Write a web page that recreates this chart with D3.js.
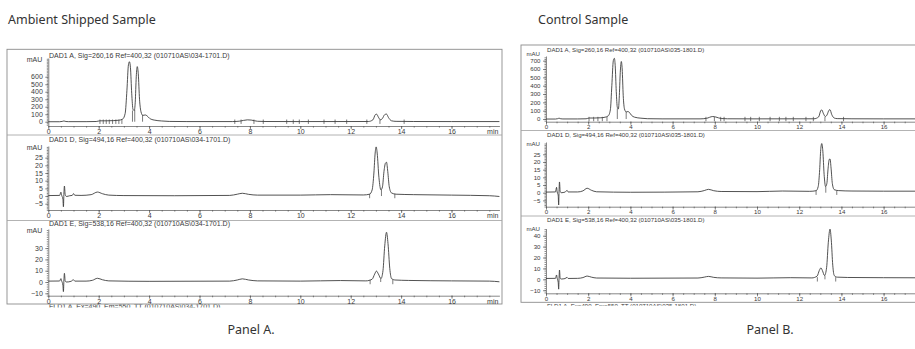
<!DOCTYPE html>
<html>
<head>
<meta charset="utf-8">
<script src="https://cdn.jsdelivr.net/npm/d3@7"></script>
<style>
  body { margin: 0; background: #fff; }
  svg { display: block; }
</style>
</head>
<body>
<div id="chart"></div>
<script>
// ---- data (time in min, signal in mAU) ----
var panelNames = ["Ambient Shipped Sample", "Control Sample"];
var panelCaptions = ["Panel A.", "Panel B."];

var ambientTitles = [
  "DAD1 A, Sig=260,16 Ref=400,32 (010710AS\\034-1701.D)",
  "DAD1 D, Sig=494,16 Ref=400,32 (010710AS\\034-1701.D)",
  "DAD1 E, Sig=538,16 Ref=400,32 (010710AS\\034-1701.D)",
  "FLD1 A, Ex=490, Em=550, TT (010710AS\\034-1701.D)"
];
var controlTitles = [
  "DAD1 A, Sig=260,16 Ref=400,32 (010710AS\\035-1801.D)",
  "DAD1 D, Sig=494,16 Ref=400,32 (010710AS\\035-1801.D)",
  "DAD1 E, Sig=538,16 Ref=400,32 (010710AS\\035-1801.D)",
  "FLD1 A, Ex=490, Em=550, TT (010710AS\\035-1801.D)"
];

var timeTicks = [0, 2, 4, 6, 8, 10, 12, 14, 16];
var ticks260A = [0, 100, 200, 300, 400, 500, 600];
var ticks260B = [0, 100, 200, 300, 400, 500, 600, 700];
var ticks494 = [-5, 0, 5, 10, 15, 20, 25];
var ticks538A = [-10, 0, 10, 20, 30];
var ticks538B = [-10, 0, 10, 20, 30, 40];

var ambient260 = [[0,0],[0.45,0],[0.55,4],[0.62,10],[0.7,3],[0.8,1],[1.5,1],[1.9,3],[2.05,12],[2.3,12],[2.6,15],
  [2.8,20],[2.95,35],[3.05,110],[3.12,420],[3.18,760],[3.22,800],[3.26,720],[3.31,380],[3.36,165],[3.41,150],
  [3.45,260],[3.49,600],[3.53,735],[3.57,640],[3.62,300],[3.68,130],[3.75,85],[3.85,90],[3.92,78],[4.02,45],
  [4.2,22],[4.5,10],[4.8,4],[5.5,2],[7.3,2],[7.6,8],[7.9,25],[8.05,22],[8.3,6],[8.6,3],[10,2],[12.7,3],
  [12.88,25],[12.98,95],[13.03,100],[13.1,60],[13.18,25],[13.25,40],[13.35,95],[13.42,102],[13.5,55],
  [13.62,12],[13.8,5],[14.5,3],[16,2],[17.9,2]];
var ambient494 = [[0,0.3],[0.45,0.4],[0.5,2.5],[0.53,0.5],[0.58,-2],[0.6,-7],[0.62,2],[0.64,6.5],[0.67,1],
  [0.72,-0.3],[0.85,0.2],[0.95,0.4],[1.0,1.6],[1.05,0.5],[1.3,0.4],[1.7,0.9],[1.95,2.6],[2.15,1.5],[2.4,0.6],
  [3,0.3],[5,0.2],[7.2,0.4],[7.5,1.2],[7.7,1.8],[7.95,1.1],[8.3,0.6],[10,0.6],[11.2,0.9],[12.5,0.7],
  [12.75,1.2],[12.85,4],[12.92,15],[12.97,28],[13.01,32],[13.05,28],[13.12,12],[13.2,4],[13.26,6],
  [13.32,16],[13.38,21.5],[13.42,22],[13.47,16],[13.53,6],[13.62,2],[13.8,1.2],[14.5,0.9],[16,0.6],
  [17.5,0.2],[17.9,-0.3]];
var ambient538 = [[0,0.8],[0.45,0.9],[0.5,3],[0.53,1],[0.58,-3],[0.6,-8.5],[0.62,2],[0.64,7.7],[0.67,1],
  [0.72,0],[0.9,0.6],[1.0,2],[1.05,0.8],[1.5,0.8],[1.75,1.5],[1.95,3.3],[2.15,2],[2.4,1],[4,0.6],[7.2,0.8],
  [7.5,1.8],[7.7,2.8],[7.95,1.8],[8.3,1],[10,0.8],[11.6,1.3],[12.6,1],[12.85,2.5],[12.95,7],[13.02,9.7],
  [13.1,7],[13.2,3],[13.28,10],[13.35,32],[13.42,44],[13.48,34],[13.55,12],[13.62,3],[13.75,1.8],
  [14.3,1.4],[16,1],[17.5,0.8],[17.9,0.2]];

var control260 = [[0,0],[0.45,0],[0.55,4],[0.62,10],[0.7,3],[0.8,1],[1.5,1],[1.9,3],[2.05,12],[2.3,12],
  [2.6,15],[2.8,22],[2.95,38],[3.05,110],[3.12,400],[3.19,700],[3.24,728],[3.28,640],[3.33,330],[3.38,140],
  [3.43,120],[3.47,250],[3.52,560],[3.57,690],[3.61,600],[3.66,280],[3.72,120],[3.8,85],[3.88,90],[3.95,80],
  [4.05,45],[4.2,22],[4.5,10],[4.8,4],[5.5,2],[7.3,2],[7.6,8],[7.9,30],[8.05,24],[8.3,6],[8.6,3],[10,2],
  [12.7,3],[12.92,25],[13.02,100],[13.07,110],[13.14,70],[13.24,30],[13.32,50],[13.41,105],[13.46,112],
  [13.54,55],[13.66,12],[13.8,5],[14.5,3],[16,2],[17.9,2]];
var control494 = [[0,0.4],[0.45,0.5],[0.5,3.5],[0.53,0.5],[0.58,-2],[0.6,-8],[0.62,2],[0.64,7],[0.67,1],
  [0.72,0],[0.9,0.4],[1.0,1.5],[1.05,0.5],[1.5,0.5],[1.75,1.2],[1.95,2.9],[2.15,1.6],[2.4,0.6],[4,0.3],
  [7.2,0.6],[7.5,1.4],[7.7,2.2],[7.95,1.3],[8.3,0.8],[10,0.7],[11.2,1.1],[12.5,0.9],[12.8,1.3],[12.9,4],
  [12.97,15],[13.02,28],[13.07,32],[13.12,27],[13.18,12],[13.25,4],[13.31,6],[13.37,16],[13.42,21.5],
  [13.46,22],[13.51,16],[13.57,6],[13.66,2],[13.85,1.4],[14.5,1.1],[16,1],[17.9,1]];
var control538 = [[0,0.8],[0.45,0.9],[0.5,4],[0.53,1],[0.58,-3],[0.6,-9],[0.62,2],[0.64,8.5],[0.67,1],
  [0.72,0.3],[0.9,0.7],[1.0,1.8],[1.05,0.8],[1.5,0.9],[1.75,1.6],[1.95,3],[2.15,2],[2.4,1.2],[4,1],
  [7.2,1.2],[7.5,2],[7.7,2.7],[7.95,1.8],[8.3,1.3],[10,1.1],[11.6,1.5],[12.6,1.3],[12.85,3],[12.95,8],
  [13.03,10.5],[13.1,8],[13.2,3.5],[13.3,11],[13.38,34],[13.46,46],[13.52,36],[13.59,13],[13.66,3.5],
  [13.8,2],[14.3,1.7],[16,1.5],[17.9,1.4]];

// integration marks: event ticks (min) and drop lines [min, mAU]
var ambient260Ticks = [2.05,2.18,2.3,2.42,2.55,2.68,2.8,2.92,7.4,7.65,8.16,8.53,9.46,9.72,9.96,10.32,10.94,11.38,11.84,12.64,13.16,14.12];
var ambient260Drops = [[3.34,150],[3.43,160],[3.74,90]];
var control260Ticks = [2.04,2.26,2.46,2.67,2.89,7.58,7.98,8.28,8.44,9.43,9.7,10.11,10.62,11.06,11.37,11.72,12.32,12.67,13.22,14.1];
var control260Drops = [[3.38,125],[3.8,85]];
var ambient494Ticks = [12.75,13.75], ambient494Drops = [[13.22,4]];
var ambient538Ticks = [12.77,13.67], ambient538Drops = [[13.19,3]];
var control494Ticks = [12.8,13.78], control494Drops = [[13.26,4]];
var control538Ticks = [12.86,13.73], control538Drops = [[13.22,3.5]];

// ---- layout ----
var W = 915, H = 349;
var timeDomain = [0, 17.9];
var ink = "#3a3a3a";

var svg = d3.select("#chart").append("svg")
  .attr("width", W)
  .attr("height", H);

var defs = svg.append("defs");

svg.selectAll("text.head").data(panelNames).enter().append("text")
  .attr("class", "head")
  .attr("x", function(d, i) { return i === 0 ? 8 : 538; })
  .attr("y", 24)
  .attr("font-family", "'Noto Sans', 'Open Sans', sans-serif")
  .attr("font-size", 12.5)
  .attr("fill", "#333")
  .text(function(d) { return d; });

svg.selectAll("text.cap").data(panelCaptions).enter().append("text")
  .attr("class", "cap")
  .attr("x", function(d, i) { return i === 0 ? 251 : 770; })
  .attr("y", 334)
  .attr("text-anchor", "middle")
  .attr("font-family", "'Noto Sans', 'Open Sans', sans-serif")
  .attr("font-size", 12.5)
  .attr("fill", "#333")
  .text(function(d) { return d; });

var panels = [
  {
    id: "a", titles: ambientTitles, font: 7,
    frame: {x0: 7, x1: 502, y0: 49.3, y1: 304}, seps: [135, 220.5],
    xRange: [48.3, 499.4], titleX: 49, fldY: 309.2, minLabel: true,
    rows: [
      {series: ambient260, ticks: ticks260A, step: 100, marks: ambient260Ticks, drops: ambient260Drops,
       domain: [-57, 850], range: [126, 58], titleY: 57.5},
      {series: ambient494, ticks: ticks494, step: 5, marks: ambient494Ticks, drops: ambient494Drops,
       domain: [-9.1, 32.6], range: [210, 146], titleY: 141.5},
      {series: ambient538, ticks: ticks538A, step: 10, marks: ambient538Ticks, drops: ambient538Drops,
       domain: [-12.1, 46.9], range: [295.7, 229], titleY: 225.5}
    ]
  },
  {
    id: "b", titles: controlTitles, font: 6.1,
    frame: {x0: 521, x1: 930, y0: 45, y1: 302.3}, seps: [130.5, 216],
    xRange: [546, 923.7], titleX: 547, fldY: 307.5, minLabel: false,
    rows: [
      {series: control260, ticks: ticks260B, step: 100, marks: control260Ticks, drops: control260Drops,
       domain: [-32, 756], range: [121.7, 56], titleY: 51.5},
      {series: control494, ticks: ticks494, step: 5, marks: control494Ticks, drops: control494Drops,
       domain: [-9.1, 33], range: [206.7, 142], titleY: 136.5},
      {series: control538, ticks: ticks538B, step: 10, marks: control538Ticks, drops: control538Drops,
       domain: [-12.8, 46.6], range: [293.3, 228.5], titleY: 222}
    ]
  }
];

panels.forEach(function(p) {
  var g = svg.append("g").attr("font-family", "'Liberation Sans', Arial, sans-serif");
  var x = d3.scaleLinear().domain(timeDomain).range(p.xRange);
  var f = p.frame;

  // frame + separators
  g.append("rect")
    .attr("x", f.x0).attr("y", f.y0)
    .attr("width", f.x1 - f.x0).attr("height", f.y1 - f.y0)
    .attr("fill", "none").attr("stroke", "#8c8c8c").attr("stroke-width", 0.9);
  p.seps.forEach(function(s) {
    g.append("line").attr("x1", f.x0).attr("x2", f.x1).attr("y1", s).attr("y2", s)
      .attr("stroke", "#a0a0a0").attr("stroke-width", 0.8);
  });

  p.rows.forEach(function(r, i) {
    var y = d3.scaleLinear().domain(r.domain).range(r.range);
    var axisY = r.range[0];

    g.append("text")
      .attr("x", p.titleX).attr("y", r.titleY)
      .attr("font-size", p.font).attr("fill", ink)
      .text(p.titles[i]);

    // x axis, minor then major
    var minor = d3.range(0, timeDomain[1], 0.5);
    g.append("g").attr("transform", "translate(0," + axisY + ")")
      .call(d3.axisBottom(x).tickValues(minor).tickSize(1.6).tickSizeOuter(0).tickFormat(""))
      .call(function(a) { a.selectAll("path,line").attr("stroke", "#555").attr("stroke-width", 0.7); });
    g.append("g").attr("transform", "translate(0," + axisY + ")")
      .call(d3.axisBottom(x).tickValues(timeTicks).tickSize(3).tickSizeOuter(0).tickPadding(0))
      .call(function(a) {
        a.select(".domain").remove();
        a.selectAll("line").attr("stroke", "#555").attr("stroke-width", 0.7);
        a.selectAll("text").attr("font-size", p.font).attr("fill", ink).attr("font-family", null);
      });
    if (p.minLabel) {
      g.append("text")
        .attr("x", x(timeDomain[1]) - 1).attr("y", axisY + 8)
        .attr("text-anchor", "end").attr("font-size", p.font).attr("fill", ink)
        .text("min");
    }

    // y axis
    var yMinor = d3.range(Math.ceil(r.domain[0] / (r.step / 5)) * (r.step / 5), r.domain[1], r.step / 5);
    g.append("g").attr("transform", "translate(" + p.xRange[0] + ",0)")
      .call(d3.axisLeft(y).tickValues(yMinor).tickSize(1.5).tickSizeOuter(0).tickFormat(""))
      .call(function(a) { a.selectAll("path,line").attr("stroke", "#555").attr("stroke-width", 0.7); });
    g.append("g").attr("transform", "translate(" + p.xRange[0] + ",0)")
      .call(d3.axisLeft(y).tickValues(r.ticks).tickSize(3).tickSizeOuter(0).tickPadding(2.5))
      .call(function(a) {
        a.select(".domain").remove();
        a.selectAll("line").attr("stroke", "#555").attr("stroke-width", 0.7);
        a.selectAll("text").attr("font-size", p.font).attr("fill", ink).attr("font-family", null);
      });
    var topTick = r.ticks[r.ticks.length - 1];
    g.append("text")
      .attr("x", p.xRange[0] - 6)
      .attr("y", Math.min(r.range[1] + 3.5, y(topTick) - 4.5))
      .attr("text-anchor", "end").attr("font-size", p.font).attr("fill", ink)
      .text("mAU");

    // trace
    var line = d3.line()
      .x(function(d) { return x(d[0]); })
      .y(function(d) { return y(d[1]); })
      .curve(d3.curveMonotoneX);
    g.append("path").datum(r.series)
      .attr("d", line)
      .attr("fill", "none").attr("stroke", "#333").attr("stroke-width", 0.85);

    // integration events
    g.selectAll(null).data(r.marks).enter().append("line")
      .attr("x1", function(d) { return x(d); }).attr("x2", function(d) { return x(d); })
      .attr("y1", y(0) - 2.2).attr("y2", y(0) + 2.2)
      .attr("stroke", "#444").attr("stroke-width", 0.7);
    g.selectAll(null).data(r.drops).enter().append("line")
      .attr("x1", function(d) { return x(d[0]); }).attr("x2", function(d) { return x(d[0]); })
      .attr("y1", y(0)).attr("y2", function(d) { return y(d[1]); })
      .attr("stroke", "#444").attr("stroke-width", 0.7);
  });

  // fourth signal title, cut off at the page edge
  defs.append("clipPath").attr("id", "cut-" + p.id)
    .append("rect").attr("x", f.x0).attr("y", f.y1 + 0.5).attr("width", f.x1 - f.x0).attr("height", p.fldY - f.y1 - 2.3);
  g.append("text")
    .attr("clip-path", "url(#cut-" + p.id + ")")
    .attr("x", p.titleX).attr("y", p.fldY)
    .attr("font-size", p.font).attr("fill", ink)
    .text(p.titles[3]);
});
</script>
</body>
</html>
